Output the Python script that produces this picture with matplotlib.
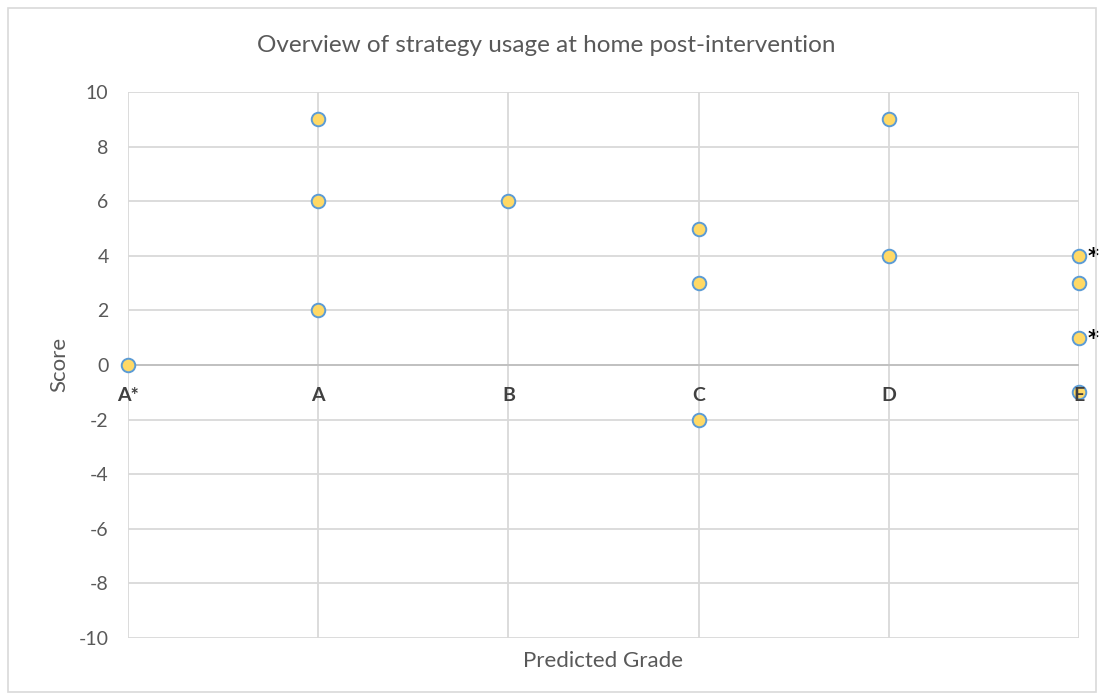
import matplotlib
matplotlib.use("Agg")
import matplotlib.pyplot as plt
from matplotlib.patches import Rectangle

plt.rcParams['font.family'] = ['Lato', 'DejaVu Sans']
plt.rcParams['axes.unicode_minus'] = False

categories = ["A*", "A", "B", "C", "D", "E"]
# (grade index, score) pairs for each pupil
grade_idx = [0, 1, 1, 1, 2, 3, 3, 3, 4, 4, 5, 5, 5, 5]
scores = [0, 9, 6, 2, 6, 5, 3, -2, 9, 4, 4, 3, 1, -1]
# pupils flagged with an asterisk
flagged = [(5, 4), (5, 1)]

title = "Overview of strategy usage at home post-intervention"
ylabel = "Score"
xlabel = "Predicted Grade"
yticks = list(range(-10, 11, 2))

W, H = 1104, 700
fig = plt.figure(figsize=(W / 100, H / 100), dpi=100)
ax = fig.add_axes([128 / W, 1 - 638 / H, (1079 - 128) / W, (638 - 92) / H])

grid_c = "#D9D9D9"
text_c = "#595959"

ax.set_xlim(0, 5)
ax.set_ylim(-10, 10)
ax.set_yticks(yticks)
ax.set_xticks(range(len(categories)))
ax.set_xticklabels([])
ax.grid(True, color=grid_c, linewidth=1.3)
ax.set_axisbelow(True)
for s in ax.spines.values():
    s.set_visible(False)
ax.tick_params(axis="both", length=0, labelsize=14, labelcolor=text_c, pad=14)
ax.axhline(0, color="#BFBFBF", linewidth=1.3, zorder=1)

ax.scatter(grade_idx, scores, s=95, facecolor="#FFD966", edgecolor="#5B9BD5",
           linewidth=1.4, zorder=3, clip_on=False)

# category labels sit just below the zero line
for i, c in enumerate(categories):
    ax.text(i, -1.1, c, ha="center", va="center", fontsize=14, fontweight="bold",
            color="#404040", zorder=4)

for gx, gy in flagged:
    ax.annotate("*", (gx, gy), xytext=(6, -1), textcoords="offset points",
                ha="left", va="center", fontsize=15, fontweight="bold",
                family="DejaVu Sans", color="black", annotation_clip=False)

fig.text(59 / W, 1 - 364 / H, ylabel, rotation=90, ha="center", va="center",
         fontsize=16, color=text_c)
fig.text(603 / W, 1 - 661 / H, xlabel, ha="center", va="center",
         fontsize=16, color=text_c)
fig.text(546 / W, 1 - 45 / H, title, ha="center", va="center",
         fontsize=17.5, color=text_c)

fig.patches.append(Rectangle((8 / W, 8 / H), (1096 - 8) / W, (692 - 8) / H,
                             transform=fig.transFigure, fill=False,
                             edgecolor="#D9D9D9", linewidth=1.2))

fig.savefig("out.png", dpi=100, facecolor="white")
